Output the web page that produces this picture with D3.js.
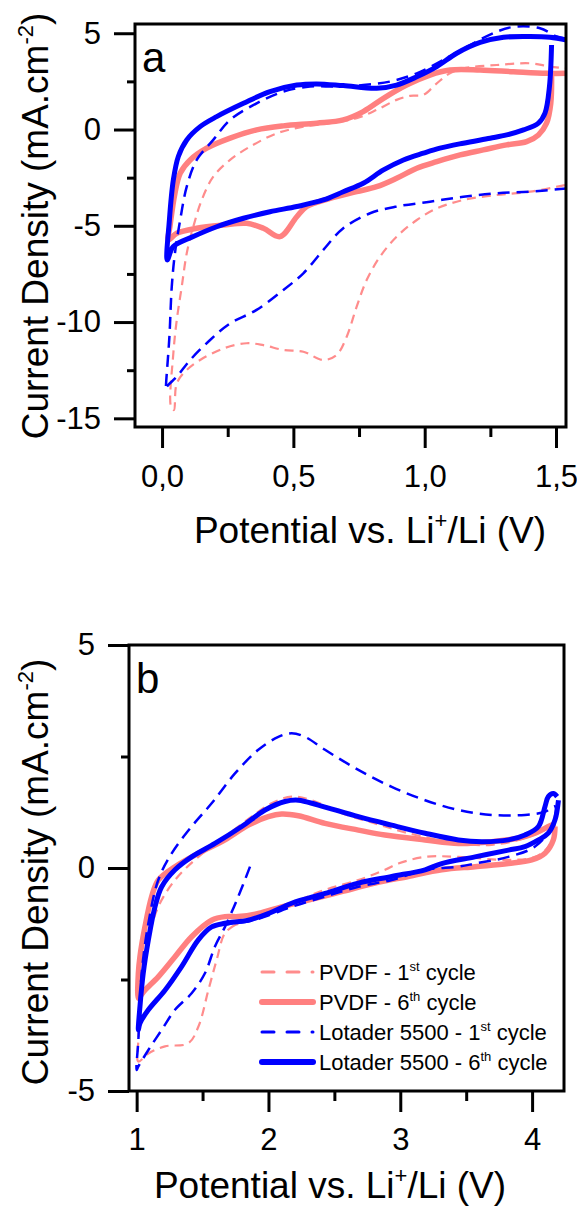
<!DOCTYPE html>
<meta charset="utf-8">
<head>
<style>
  body { margin: 0; background: #fff; }
  svg text { font-family: "Liberation Sans", Arial, sans-serif; fill: #000; }
</style>
</head>
<body>
<div id="chart"></div>
<script src="https://d3js.org/d3.v7.min.js"></script>
<script>
// ---- panel a : [potential V, current density mA/cm2] ----
let aPvdf1 = [[1.534,-2.89],[1.401,-3.23],[1.274,-3.40],[1.147,-3.66],[1.046,-4.10],[0.970,-4.70],[0.893,-5.57],[0.830,-6.60],[0.779,-7.82],[0.741,-9.20],[0.703,-10.76],[0.665,-11.70],[0.614,-11.97],[0.538,-11.54],[0.462,-11.45],[0.386,-11.20],[0.322,-11.10],[0.234,-11.37],[0.145,-11.97],[0.094,-12.49],[0.056,-13.18],[0.045,-14.57],
  [0.034,-14.40],[0.043,-11.62],[0.056,-9.89],[0.075,-8.16],[0.094,-6.43],[0.119,-5.05],[0.151,-3.66],[0.195,-2.45],[0.259,-1.58],[0.335,-0.89],[0.437,-0.20],[0.538,0.15],[0.640,0.33],[0.741,0.59],[0.817,1.02],[0.893,1.54],[0.944,1.75],[0.995,1.80],[1.046,2.40],[1.096,2.92],[1.147,3.18],[1.274,3.35],[1.401,3.44],[1.477,3.27],[1.540,3.18]];
let aPvdf6 = [[1.483,2.92],[1.480,1.36],[1.464,0.33],[1.433,-0.28],[1.388,-0.63],[1.312,-0.80],[1.223,-1.06],[1.135,-1.32],[1.046,-1.67],[0.970,-2.01],[0.893,-2.53],[0.817,-2.97],[0.741,-3.23],[0.640,-3.58],[0.551,-4.00],[0.513,-4.53],[0.449,-5.56],[0.386,-5.13],[0.322,-4.87],[0.234,-4.96],[0.132,-5.13],[0.056,-5.39],[0.024,-5.73],
  [0.030,-5.04],[0.049,-3.32],[0.069,-2.27],[0.107,-1.58],[0.170,-0.97],[0.259,-0.45],[0.360,-0.02],[0.462,0.19],[0.589,0.33],[0.690,0.50],[0.766,0.93],[0.843,1.62],[0.931,2.31],[1.020,2.83],[1.096,3.09],[1.211,3.09],[1.338,3.00],[1.464,2.92],[1.540,2.92]];
let aLot1 = [[1.540,-3.06],[1.401,-3.23],[1.274,-3.31],[1.147,-3.49],[1.020,-3.75],[0.893,-4.00],[0.792,-4.35],[0.690,-5.13],[0.614,-6.25],[0.538,-7.47],[0.462,-8.33],[0.360,-9.37],[0.259,-10.07],[0.183,-10.93],[0.107,-11.97],[0.056,-12.84],[0.018,-13.36],[0.015,-13.50],
  [0.028,-10.76],[0.037,-8.16],[0.049,-6.43],[0.069,-4.70],[0.094,-2.97],[0.132,-1.58],[0.195,-0.54],[0.259,0.50],[0.360,1.36],[0.462,1.97],[0.563,2.23],[0.665,2.23],[0.766,2.31],[0.868,2.49],[0.970,2.92],[1.071,3.62],[1.173,4.39],[1.274,5.08],[1.350,5.35],[1.439,5.26],[1.503,4.83],[1.540,4.70]];
let aLot6 = [[1.483,4.39],[1.475,2.23],[1.458,0.85],[1.433,0.33],[1.376,-0.02],[1.312,-0.28],[1.249,-0.45],[1.147,-0.71],[1.058,-0.97],[0.995,-1.23],[0.919,-1.58],[0.843,-2.10],[0.766,-2.79],[0.690,-3.23],[0.614,-3.66],[0.513,-4.00],[0.411,-4.27],[0.310,-4.61],[0.208,-5.05],[0.119,-5.56],[0.043,-6.08],[0.020,-6.77],
  [0.028,-4.69],[0.043,-2.62],[0.062,-1.40],[0.094,-0.54],[0.145,0.15],[0.208,0.67],[0.310,1.36],[0.411,1.97],[0.513,2.31],[0.589,2.37],[0.690,2.28],[0.817,2.14],[0.893,2.31],[0.970,2.74],[1.046,3.27],[1.122,3.96],[1.211,4.52],[1.300,4.79],[1.401,4.83],[1.477,4.79],[1.540,4.65]];

// ---- panel b ----
let bPvdf1 = [[1.746,-1.28],[1.670,-1.46],[1.607,-2.06],[1.544,-2.74],[1.468,-3.56],[1.392,-3.93],[1.215,-4.00],[1.089,-4.16],[1.013,-4.34],
  [1.013,-3.86],[1.038,-2.74],[1.089,-1.61],[1.164,-0.87],[1.291,-0.27],[1.468,0.25],[1.670,0.70],[1.872,1.15],[2.024,1.45],[2.176,1.60],[2.328,1.52],[2.555,1.23],[2.808,1.00],[3.061,0.78],[3.441,0.55],[3.694,0.52],[3.946,0.67],[4.098,0.85],[4.174,0.93],
  [4.123,0.48],[4.022,0.25],[3.820,0.18],[3.441,0.25],[3.188,0.25],[2.985,0.10],[2.884,-0.04],[2.682,-0.27],[2.429,-0.49],[2.176,-0.79],[1.923,-1.09],[1.746,-1.28]];
let bPvdf6 = [[4.174,0.93],[4.161,0.63],[4.098,0.33],[3.997,0.18],[3.820,0.10],[3.567,0.03],[3.314,-0.04],[3.061,-0.19],[2.808,-0.34],[2.555,-0.53],[2.302,-0.72],[2.100,-0.87],[1.923,-1.02],[1.771,-1.09],[1.670,-1.09],[1.569,-1.17],[1.417,-1.54],[1.291,-1.99],[1.164,-2.44],[1.063,-2.74],[1.025,-2.88],[1.013,-2.92],
  [1.013,-2.36],[1.025,-1.99],[1.063,-1.32],[1.114,-0.64],[1.164,-0.27],[1.291,0.03],[1.468,0.33],[1.670,0.63],[1.847,0.96],[1.999,1.15],[2.100,1.21],[2.227,1.17],[2.429,1.00],[2.682,0.85],[2.884,0.74],[3.188,0.63],[3.441,0.55],[3.694,0.59],[3.896,0.67],[4.022,0.78],[4.123,0.93],[4.174,1.00]];
let bLot1 = [[1.860,0.03],[1.771,-0.64],[1.670,-1.32],[1.594,-1.76],[1.518,-2.36],[1.417,-2.81],[1.291,-3.18],[1.190,-3.63],[1.089,-4.08],[1.013,-4.45],[1.000,-4.53],
  [1.013,-3.86],[1.038,-2.36],[1.089,-1.24],[1.164,-0.27],[1.266,0.33],[1.417,0.93],[1.569,1.45],[1.746,2.12],[1.923,2.65],[2.075,2.94],[2.176,3.02],[2.277,2.94],[2.429,2.65],[2.682,2.20],[2.935,1.82],[3.188,1.52],[3.441,1.30],[3.694,1.19],[3.946,1.19],[4.098,1.26],[4.174,1.38],
  [4.150,0.93],[4.022,0.48],[3.820,0.25],[3.567,0.10],[3.440,0.03],[3.190,-0.04],[2.935,-0.27],[2.682,-0.42],[2.429,-0.64],[2.176,-0.87],[1.974,-1.09],[1.847,-1.20],[1.720,-1.24],[1.670,-1.28]];
let bLot6 = [[4.200,1.52],[4.174,1.08],[4.123,0.78],[4.048,0.63],[3.946,0.48],[3.820,0.40],[3.567,0.25],[3.314,0.10],[3.188,-0.04],[2.935,-0.19],[2.682,-0.34],[2.429,-0.57],[2.176,-0.79],[1.999,-1.02],[1.847,-1.17],[1.670,-1.24],[1.569,-1.32],[1.468,-1.61],[1.341,-2.21],[1.215,-2.74],[1.089,-3.18],[1.025,-3.48],[1.013,-3.63],
  [1.025,-3.11],[1.050,-2.36],[1.089,-1.61],[1.139,-0.87],[1.190,-0.42],[1.291,-0.04],[1.417,0.25],[1.594,0.55],[1.797,0.93],[1.974,1.30],[2.125,1.49],[2.227,1.52],[2.378,1.41],[2.682,1.15],[2.935,0.96],[3.188,0.78],[3.441,0.63],[3.618,0.59],[3.820,0.63],[3.946,0.74],[4.048,0.93],[4.098,1.38],[4.123,1.60],[4.161,1.67],[4.190,1.60]];

let seriesNames = ['PVDF - 1', 'PVDF - 6', 'Lotader 5500 - 1', 'Lotader 5500 - 6'];
let seriesSups = ['st', 'th', 'st', 'th'];

let aXTicks = [0, 0.5, 1.0, 1.5], aXMinor = [0.25, 0.75, 1.25];
let aYTicks = [5, 0, -5, -10, -15], aYMinor = [2.5, -2.5, -7.5, -12.5];
let bXTicks = [1, 2, 3, 4], bXMinor = [1.5, 2.5, 3.5];
let bYTicks = [5, 0, -5], bYMinor = [2.5, -2.5];

// line styles, same order as the legend
let styles = [
  {color: '#ff8c8c', width: 2.2, dash: '9,6'},
  {color: '#ff8080', width: 5.5, dash: null},
  {color: '#0000ff', width: 2.5, dash: '12,7'},
  {color: '#0000ff', width: 5, dash: null}
];

let svg = d3.select('#chart').append('svg')
  .attr('width', 577).attr('height', 1207);

function panel(cfg){
  let x = d3.scaleLinear().domain(cfg.xDom).range([cfg.left, cfg.right]);
  let y = d3.scaleLinear().domain(cfg.yDom).range([cfg.bottom, cfg.top]);
  let g = svg.append('g');

  g.append('clipPath').attr('id', cfg.id + 'clip')
    .append('rect').attr('x', cfg.left).attr('y', cfg.top)
    .attr('width', cfg.right - cfg.left).attr('height', cfg.bottom - cfg.top);

  let line = d3.line().x(d => x(d[0])).y(d => y(d[1])).curve(d3.curveCatmullRom.alpha(0.5));
  cfg.data.forEach((s, i) => {
    g.append('path').datum(s)
      .attr('clip-path', `url(#${cfg.id}clip)`)
      .attr('fill', 'none')
      .attr('stroke', styles[i].color)
      .attr('stroke-width', styles[i].width)
      .attr('stroke-dasharray', styles[i].dash)
      .attr('stroke-linejoin', 'round')
      .attr('d', line);
  });

  // axes
  g.append('g').attr('transform', `translate(${cfg.left},0)`)
    .call(d3.axisLeft(y).tickValues(cfg.yTicks).tickSize(21).tickPadding(13).tickFormat(d => String(d)));
  g.append('g').attr('transform', `translate(${cfg.left},0)`)
    .call(d3.axisLeft(y).tickValues(cfg.yMinor).tickSize(8).tickFormat(''));
  g.append('g').attr('transform', `translate(0,${cfg.bottom})`)
    .call(d3.axisBottom(x).tickValues(cfg.xTicks).tickSize(21).tickPadding(cfg.xPad).tickFormat(cfg.xFmt));
  g.append('g').attr('transform', `translate(0,${cfg.bottom})`)
    .call(d3.axisBottom(x).tickValues(cfg.xMinor).tickSize(10).tickFormat(''));
  g.selectAll('.domain').remove();
  g.selectAll('.tick line').attr('stroke', '#000').attr('stroke-width', 3);
  g.selectAll('.tick text').attr('font-size', 31).attr('font-family', '"Liberation Sans", Arial, sans-serif');

  g.append('rect').attr('x', cfg.left).attr('y', cfg.top)
    .attr('width', cfg.right - cfg.left).attr('height', cfg.bottom - cfg.top)
    .attr('fill', 'none').attr('stroke', '#000').attr('stroke-width', 3);

  g.append('text').attr('x', cfg.letterX).attr('y', cfg.letterY)
    .attr('font-size', 42).text(cfg.letter);

  // axis titles
  let yt = g.append('text')
    .attr('transform', `translate(48,${cfg.yTitleY}) rotate(-90)`)
    .attr('text-anchor', 'middle').attr('font-size', 37);
  yt.append('tspan').text('Current Density (mA.cm');
  yt.append('tspan').attr('font-size', 22).attr('dy', -15).text('-2');
  yt.append('tspan').attr('dy', 15).text(')');

  let xt = g.append('text').attr('x', cfg.xTitleX).attr('y', cfg.xTitleY)
    .attr('text-anchor', 'middle').attr('font-size', 37);
  xt.append('tspan').text('Potential vs. Li');
  xt.append('tspan').attr('font-size', 22).attr('dy', -15).text('+');
  xt.append('tspan').attr('dy', 15).text('/Li (V)');
  return g;
}

panel({id: 'a', left: 135, right: 566, top: 24, bottom: 427,
  xDom: [-0.103, 1.538], yDom: [-15.45, 5.48],
  xTicks: aXTicks, xMinor: aXMinor, yTicks: aYTicks, yMinor: aYMinor,
  xFmt: d => d.toFixed(1).replace('.', ','), xPad: 17,
  data: [aPvdf1, aPvdf6, aLot1, aLot6],
  letter: 'a', letterX: 142, letterY: 72,
  yTitleY: 226, xTitleX: 370, xTitleY: 543});

let gb = panel({id: 'b', left: 129, right: 564, top: 645, bottom: 1091,
  xDom: [0.942, 4.242], yDom: [-5, 5],
  xTicks: bXTicks, xMinor: bXMinor, yTicks: bYTicks, yMinor: bYMinor,
  xFmt: d => String(d), xPad: 16,
  data: [bPvdf1, bPvdf6, bLot1, bLot6],
  letter: 'b', letterX: 136, letterY: 693,
  yTitleY: 872, xTitleX: 330, xTitleY: 1198});

// legend
let leg = gb.append('g').selectAll('g').data(seriesNames).join('g')
  .attr('transform', (d, i) => `translate(262,${972 + i * 30})`);
leg.append('line').attr('x1', 0).attr('x2', 51).attr('y1', 0).attr('y2', 0)
  .attr('stroke', (d, i) => styles[i].color)
  .attr('stroke-width', (d, i) => styles[i].dash ? 3 : 6)
  .attr('stroke-dasharray', (d, i) => styles[i].dash ? '12,13' : null)
  .attr('stroke-linecap', 'round');
let lt = leg.append('text').attr('x', 57).attr('y', 7.5).attr('font-size', 22);
lt.append('tspan').text(d => d);
lt.append('tspan').attr('font-size', 13).attr('dy', -9).text((d, i) => seriesSups[i]);
lt.append('tspan').attr('dy', 9).text(' cycle');
</script>
</body>
